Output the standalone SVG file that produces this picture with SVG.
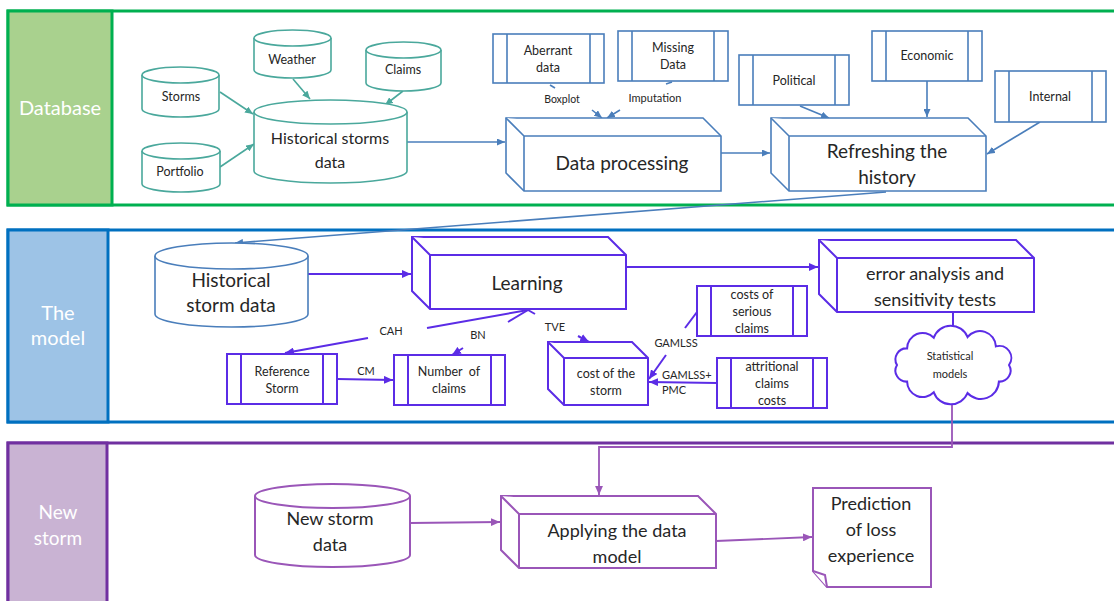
<svg xmlns="http://www.w3.org/2000/svg" width="1114" height="601" viewBox="0 0 1114 601">
  <defs>
    <style>
      text { font-family: Lato, "Liberation Sans", sans-serif; fill: #262626; text-anchor: middle; }
      .lane-label { fill: #ffffff; font-size: 20px; }
      .big { font-size: 19px; }
      .mid { font-size: 16px; }
      .sm { font-size: 12.5px; }
      .xs { font-size: 11px; }
      .teal { fill: #ffffff; stroke: #4aa89c; stroke-width: 1.6; }
      .steel { fill: #ffffff; stroke: #4a7ebb; stroke-width: 1.6; }
      .violet { fill: #ffffff; stroke: #5b2ce6; stroke-width: 2; }
      .plum { fill: #ffffff; stroke: #9a56b8; stroke-width: 2; }
      .edge-teal { fill: none; stroke: #4aa89c; stroke-width: 1.6; }
      .edge-steel { fill: none; stroke: #4a7ebb; stroke-width: 1.6; }
      .edge-violet { fill: none; stroke: #5b2ce6; stroke-width: 2; }
      .edge-plum { fill: none; stroke: #9a56b8; stroke-width: 1.8; }
    </style>
    <marker id="ah-teal" viewBox="0 0 8 7" refX="8" refY="3.5" markerWidth="8" markerHeight="7" markerUnits="userSpaceOnUse" orient="auto">
      <path d="M0,0 L8,3.5 L0,7 z" fill="#4aa89c"/>
    </marker>
    <marker id="ah-steel" viewBox="0 0 8 7" refX="8" refY="3.5" markerWidth="8" markerHeight="7" markerUnits="userSpaceOnUse" orient="auto">
      <path d="M0,0 L8,3.5 L0,7 z" fill="#4a7ebb"/>
    </marker>
    <marker id="ah-violet" viewBox="0 0 8 7" refX="8" refY="3.5" markerWidth="9" markerHeight="8" markerUnits="userSpaceOnUse" orient="auto">
      <path d="M0,0 L8,3.5 L0,7 z" fill="#5b2ce6"/>
    </marker>
    <marker id="ah-plum" viewBox="0 0 8 7" refX="8" refY="3.5" markerWidth="9" markerHeight="8" markerUnits="userSpaceOnUse" orient="auto">
      <path d="M0,0 L8,3.5 L0,7 z" fill="#9a56b8"/>
    </marker>
  </defs>

  <rect x="0" y="0" width="1114" height="601" fill="#ffffff"/>

  <!-- Swim lanes -->
  <g id="lane-database">
    <rect x="8" y="11" width="1130" height="194" fill="none" stroke="#00b050" stroke-width="3"/>
    <rect x="8" y="11" width="104" height="194" fill="#a9d18e" stroke="#00b050" stroke-width="3"/>
    <text class="lane-label" x="60" y="115">Database</text>
  </g>
  <g id="lane-model">
    <rect x="8" y="230" width="1130" height="192" fill="none" stroke="#0070c0" stroke-width="3"/>
    <rect x="8" y="230" width="100" height="192" fill="#9dc3e6" stroke="#0070c0" stroke-width="3"/>
    <text class="lane-label" x="58" y="320">The</text>
    <text class="lane-label" x="58" y="345">model</text>
  </g>
  <g id="lane-new-storm">
    <rect x="8" y="443" width="1130" height="180" fill="none" stroke="#7030a0" stroke-width="3"/>
    <rect x="8" y="443" width="99" height="180" fill="#c9b3d3" stroke="#7030a0" stroke-width="3"/>
    <text class="lane-label" x="58" y="519" style="font-size:19px">New</text>
    <text class="lane-label" x="58" y="545" style="font-size:19px">storm</text>
  </g>

  <!-- Connectors -->
  <g id="connectors">
    <!-- database lane -->
    <line class="edge-teal" x1="220" y1="92" x2="253" y2="114" marker-end="url(#ah-teal)"/>
    <line class="edge-teal" x1="220" y1="167" x2="254" y2="144" marker-end="url(#ah-teal)"/>
    <line class="edge-teal" x1="293" y1="79" x2="310" y2="99" marker-end="url(#ah-teal)"/>
    <line class="edge-teal" x1="403" y1="91" x2="385" y2="105" marker-end="url(#ah-teal)"/>
    <line class="edge-steel" x1="407" y1="142" x2="505" y2="142" marker-end="url(#ah-steel)"/>
    <line class="edge-steel" x1="721" y1="153" x2="770" y2="153" marker-end="url(#ah-steel)"/>
    <line class="edge-steel" x1="550" y1="85" x2="555" y2="88"/>
    <line class="edge-steel" x1="666" y1="84" x2="672" y2="82"/>
    <line class="edge-steel" x1="592" y1="110" x2="602" y2="118" marker-end="url(#ah-steel)"/>
    <line class="edge-steel" x1="620" y1="110" x2="607" y2="118" marker-end="url(#ah-steel)"/>
    <line class="edge-steel" x1="800" y1="106" x2="829" y2="118" marker-end="url(#ah-steel)"/>
    <line class="edge-steel" x1="927" y1="81" x2="927" y2="117" marker-end="url(#ah-steel)"/>
    <line class="edge-steel" x1="1040" y1="122" x2="987" y2="154" marker-end="url(#ah-steel)"/>
    <line class="edge-steel" x1="886" y1="192" x2="235" y2="243" marker-end="url(#ah-steel)"/>

    <!-- model lane -->
    <line class="edge-violet" x1="308" y1="274" x2="411" y2="274" marker-end="url(#ah-violet)"/>
    <line class="edge-violet" x1="626" y1="267" x2="818" y2="267" marker-end="url(#ah-violet)"/>
    <line class="edge-violet" x1="953" y1="312" x2="953" y2="338" marker-end="url(#ah-violet)"/>
    <line class="edge-violet" x1="528" y1="310" x2="427" y2="328"/>
    <line class="edge-violet" x1="368" y1="338" x2="285" y2="353" marker-end="url(#ah-violet)"/>
    <line class="edge-violet" x1="528" y1="310" x2="508" y2="322"/>
    <line class="edge-violet" x1="463" y1="348" x2="452" y2="355" marker-end="url(#ah-violet)"/>
    <line class="edge-violet" x1="528" y1="310" x2="535" y2="314"/>
    <line class="edge-violet" x1="578" y1="336" x2="589" y2="342" marker-end="url(#ah-violet)"/>
    <line class="edge-violet" x1="337" y1="379" x2="393" y2="380" marker-end="url(#ah-violet)"/>
    <line class="edge-violet" x1="697" y1="312" x2="685" y2="328"/>
    <line class="edge-violet" x1="666" y1="355" x2="649" y2="379" marker-end="url(#ah-violet)"/>
    <line class="edge-violet" x1="717" y1="383" x2="649" y2="382" marker-end="url(#ah-violet)"/>

    <!-- new storm lane -->
    <polyline class="edge-plum" points="952,397 952,447 599,447 599,495" stroke="#a770c8" marker-end="url(#ah-plum)"/>
    <line class="edge-plum" x1="410" y1="523" x2="500" y2="522" marker-end="url(#ah-plum)"/>
    <line class="edge-plum" x1="716" y1="541" x2="812" y2="537" marker-end="url(#ah-plum)"/>
  </g>

  <!-- Database lane nodes -->
  <g id="node-storms">
    <path class="teal" d="M142,75 V109 A38.5,8 0 0 0 219,109 V75"/>
    <ellipse class="teal" cx="180.5" cy="75" rx="38.5" ry="8"/>
    <text class="sm" x="181" y="101">Storms</text>
  </g>
  <g id="node-weather">
    <path class="teal" d="M254,38 V70 A38.5,8 0 0 0 331,70 V38"/>
    <ellipse class="teal" cx="292.5" cy="38" rx="38.5" ry="8"/>
    <text class="sm" x="292" y="64">Weather</text>
  </g>
  <g id="node-claims">
    <path class="teal" d="M366,50 V83 A37.5,8 0 0 0 441,83 V50"/>
    <ellipse class="teal" cx="403.5" cy="50" rx="37.5" ry="8"/>
    <text class="sm" x="403" y="74">Claims</text>
  </g>
  <g id="node-portfolio">
    <path class="teal" d="M142,151 V184 A39,8 0 0 0 220,184 V151"/>
    <ellipse class="teal" cx="181" cy="151" rx="39" ry="8"/>
    <text class="sm" x="180" y="176">Portfolio</text>
  </g>
  <g id="node-historical-storms-data">
    <path class="teal" d="M254,112 V171 A76.5,12 0 0 0 407,171 V112"/>
    <ellipse class="teal" cx="330.5" cy="112" rx="76.5" ry="12"/>
    <text class="mid" x="330" y="144">Historical storms</text>
    <text class="mid" x="330" y="168">data</text>
  </g>
  <g id="node-aberrant-data">
    <rect class="steel" x="493" y="34" width="111" height="49"/>
    <path class="steel" d="M507,34 V83 M590,34 V83"/>
    <text class="sm" x="548" y="55">Aberrant</text>
    <text class="sm" x="548" y="72">data</text>
  </g>
  <g id="node-missing-data">
    <rect class="steel" x="618" y="31" width="110" height="50"/>
    <path class="steel" d="M632,31 V81 M714,31 V81"/>
    <text class="sm" x="673" y="52">Missing</text>
    <text class="sm" x="673" y="69">Data</text>
  </g>
  <g id="edge-labels-database">
    <text x="562" y="103" style="font-size:10.5px">Boxplot</text>
    <text class="xs" x="655" y="102">Imputation</text>
  </g>
  <g id="node-data-processing">
    <path class="steel" d="M506,118 H703 L721,136 V191 H524 L506,173 Z"/>
    <path class="steel" fill="none" d="M506,118 L524,136 H721 M524,136 V191"/>
    <text class="big" x="622" y="170">Data processing</text>
  </g>
  <g id="node-political">
    <rect class="steel" x="739" y="55" width="110" height="50"/>
    <path class="steel" d="M753,55 V105 M835,55 V105"/>
    <text class="sm" x="794" y="85">Political</text>
  </g>
  <g id="node-economic">
    <rect class="steel" x="872" y="31" width="110" height="50"/>
    <path class="steel" d="M886,31 V81 M968,31 V81"/>
    <text class="sm" x="927" y="60">Economic</text>
  </g>
  <g id="node-internal">
    <rect class="steel" x="995" y="71" width="111" height="51"/>
    <path class="steel" d="M1009,71 V122 M1092,71 V122"/>
    <text class="sm" x="1050" y="101">Internal</text>
  </g>
  <g id="node-refreshing-history">
    <path class="steel" d="M771,118 H968 L986,136 V191 H789 L771,173 Z"/>
    <path class="steel" fill="none" d="M771,118 L789,136 H986 M789,136 V191"/>
    <text class="big" x="887" y="158">Refreshing the</text>
    <text class="big" x="887" y="184">history</text>
  </g>

  <!-- Model lane nodes -->
  <g id="node-historical-storm-data">
    <path class="steel" d="M155,256 V314 A76.5,13 0 0 0 308,314 V256"/>
    <ellipse class="steel" cx="231.5" cy="256" rx="76.5" ry="13"/>
    <text class="big" x="231" y="287">Historical</text>
    <text class="big" x="231" y="312">storm data</text>
  </g>
  <g id="node-learning">
    <path class="violet" d="M412,237 H608 L626,255 V309 H430 L412,291 Z"/>
    <path class="violet" fill="none" d="M412,237 L430,255 H626 M430,255 V309"/>
    <text class="big" x="527" y="290">Learning</text>
  </g>
  <g id="node-error-analysis">
    <path class="violet" d="M819,240 H1016 L1034,258 V312 H837 L819,294 Z"/>
    <path class="violet" fill="none" d="M819,240 L837,258 H1034 M837,258 V312"/>
    <text x="935" y="280" style="font-size:18px">error analysis and</text>
    <text x="935" y="306" style="font-size:18px">sensitivity tests</text>
  </g>
  <g id="node-statistical-models">
    <path class="violet" d="M897,365 A11,11 0 0 1 907.1,348.4 A15.5,15.5 0 0 1 933.8,337.7 A18,18 0 0 1 967.5,337 A16,16 0 0 1 995.9,346.4 A12,12 0 0 1 1009,365 A11,11 0 0 1 998.9,381.6 A18,18 0 0 1 967.5,393 A18,18 0 0 1 933.8,392.3 A15.5,15.5 0 0 1 907.1,381.6 A11,11 0 0 1 897,365 Z"/>
    <text class="xs" x="950" y="360">Statistical</text>
    <text class="xs" x="950" y="378">models</text>
  </g>
  <g id="node-reference-storm">
    <rect class="violet" x="227" y="354" width="110" height="50"/>
    <path class="violet" d="M241,354 V404 M323,354 V404"/>
    <text class="sm" x="282" y="376">Reference</text>
    <text class="sm" x="282" y="393">Storm</text>
  </g>
  <g id="node-number-of-claims">
    <rect class="violet" x="394" y="355" width="111" height="50"/>
    <path class="violet" d="M408,355 V405 M491,355 V405"/>
    <text class="sm" x="449" y="376" xml:space="preserve">Number  of</text>
    <text class="sm" x="449" y="393">claims</text>
  </g>
  <g id="node-cost-of-storm">
    <path class="violet" d="M548,342 H632 L648,358 V405 H564 L548,389 Z"/>
    <path class="violet" fill="none" d="M548,342 L564,358 H648 M564,358 V405"/>
    <text class="sm" x="606" y="378">cost of the</text>
    <text class="sm" x="606" y="395">storm</text>
  </g>
  <g id="node-serious-claims">
    <rect class="violet" x="697" y="286" width="110" height="50"/>
    <path class="violet" d="M711,286 V336 M793,286 V336"/>
    <text class="sm" x="752" y="299">costs of</text>
    <text class="sm" x="752" y="316">serious</text>
    <text class="sm" x="752" y="333">claims</text>
  </g>
  <g id="node-attritional-claims">
    <rect class="violet" x="717" y="358" width="110" height="50"/>
    <path class="violet" d="M731,358 V408 M813,358 V408"/>
    <text class="sm" x="772" y="371">attritional</text>
    <text class="sm" x="772" y="388">claims</text>
    <text class="sm" x="772" y="405">costs</text>
  </g>
  <g id="edge-labels-model">
    <text class="xs" x="391" y="335">CAH</text>
    <text class="xs" x="478" y="339">BN</text>
    <text class="xs" x="555" y="331">TVE</text>
    <text class="xs" x="366" y="375">CM</text>
    <text class="xs" x="676" y="347">GAMLSS</text>
    <text class="xs" x="662" y="379" style="text-anchor:start">GAMLSS+</text>
    <text class="xs" x="662" y="394" style="text-anchor:start">PMC</text>
  </g>

  <!-- New storm lane nodes -->
  <g id="node-new-storm-data">
    <path class="plum" d="M255,496 V555 A77.5,12 0 0 0 410,555 V496"/>
    <ellipse class="plum" cx="332.5" cy="496" rx="77.5" ry="12"/>
    <text x="330" y="525" style="font-size:18px">New storm</text>
    <text x="330" y="551" style="font-size:18px">data</text>
  </g>
  <g id="node-applying-model">
    <path class="plum" d="M501,496 H698 L716,514 V568 H519 L501,550 Z"/>
    <path class="plum" fill="none" d="M501,496 L519,514 H716 M519,514 V568"/>
    <text x="617" y="537" style="font-size:18px">Applying the data</text>
    <text x="617" y="563" style="font-size:18px">model</text>
  </g>
  <g id="node-prediction">
    <path class="plum" d="M813,488 H931 V587 H827 L813,571 Z"/>
    <path class="plum" fill="none" d="M813,571 L825,575 L827,587"/>
    <text x="871" y="510" style="font-size:18px">Prediction</text>
    <text x="871" y="536" style="font-size:18px">of loss</text>
    <text x="871" y="562" style="font-size:18px">experience</text>
  </g>
</svg>
